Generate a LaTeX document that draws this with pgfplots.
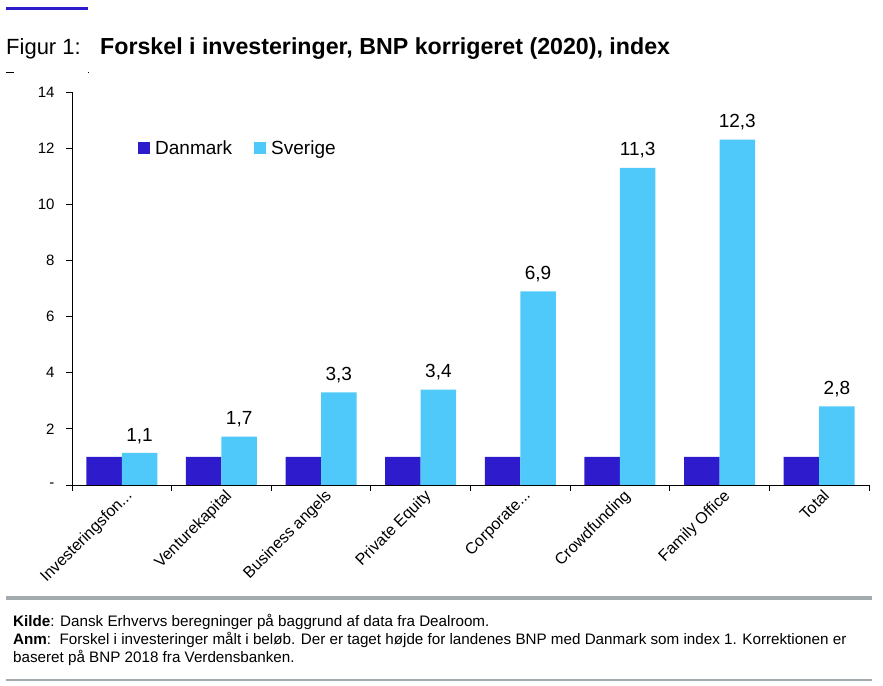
\documentclass[border=0pt]{standalone}
\usepackage{pgfplots}
\pgfplotsset{compat=1.18}
\usepackage{fontspec}
\setmainfont{Liberation Sans}
\definecolor{dk}{HTML}{2E1BCB}
\definecolor{se}{HTML}{4FC9FA}
\definecolor{gl}{HTML}{A3ABAE}
\begin{document}
\begin{tikzpicture}
\path[use as bounding box] (0pt,0pt) rectangle (883pt,685pt);
% top decoration
\fill[dk] (6pt,674.5pt) rectangle (88pt,677.5pt);
\node[anchor=base west,inner sep=0pt,font=\fontsize{22}{26}\selectfont] at (6pt,630pt) {Figur 1:};
\node[anchor=base west,inner sep=0pt,font=\fontsize{23.2}{26}\selectfont\bfseries] at (100pt,630pt) {Forskel i investeringer, BNP korrigeret (2020), index};
\draw[black,line width=0.8pt] (6pt,612.5pt) -- (14pt,612.5pt);
\fill[black] (87.5pt,612pt) rectangle (88.5pt,613pt);
\begin{axis}[
  at={(72pt,200pt)}, anchor=south west,
  scale only axis, width=797pt, height=393pt,
  xmin=0, xmax=8, ymin=0, ymax=14,
  axis x line*=bottom, axis y line*=left,
  axis line style={black, line width=0.8pt},
  ybar=0pt, bar width=35.5pt,
  xtick={0,1,2,3,4,5,6,7,8}, xticklabels={},
  ytick={0,2,4,6,8,10,12,14}, yticklabels={-,2,4,6,8,10,12,14},
  tick align=outside, major tick length=6pt,
  tick style={black, line width=0.8pt},
  /pgf/number format/assume math mode=true,
  yticklabel style={font=\fontsize{15}{17}\selectfont, xshift=-8pt},
  extra x ticks={0.5,1.5,2.5,3.5,4.5,5.5,6.5,7.5},
  extra x tick labels={{Investeringsfon{.}{.}{.}},{Venturekapital},{Business angels},{Private Equity},{Corporate{.}{.}{.}},{Crowdfunding},{Family Office},{Total}},
  extra x tick style={major tick length=0pt, tick label style={rotate=45, anchor=north east, font=\fontsize{16}{18}\selectfont, xshift=3pt, yshift=-1pt}},
  legend style={at={(0.079,0.857)}, anchor=west, draw=none, fill=none, legend columns=2,
    font=\fontsize{19}{21}\selectfont, /tikz/every even column/.append style={column sep=20pt}},
  legend image code/.code={\fill[#1] (0pt,-6pt) rectangle (12pt,6pt); \path (15pt,0pt);},
  nodes near coords style={font=\fontsize{19}{21}\selectfont, yshift=6pt, /pgf/number format/.cd, fixed, fixed zerofill, precision=1, use comma, assume math mode=true},
  clip=false,
]
\addplot[fill=dk, draw=none] coordinates {(0.5,1) (1.5,1) (2.5,1) (3.5,1) (4.5,1) (5.5,1) (6.5,1) (7.5,1)};
\addlegendentry{Danmark}
\addplot[fill=se, draw=none, nodes near coords] coordinates {(0.5,1.14) (1.5,1.72) (2.5,3.3) (3.5,3.4) (4.5,6.9) (5.5,11.3) (6.5,12.3) (7.5,2.8)};
\addlegendentry{Sverige}
\end{axis}
% footer
\fill[gl] (6pt,85pt) rectangle (872pt,89pt);
\node[anchor=base west,inner sep=0pt,font=\fontsize{15.2}{20}\selectfont] at (13pt,58pt) {\textbf{Kilde}: Dansk Erhvervs beregninger på baggrund af data fra Dealroom.};
\node[anchor=base west,inner sep=0pt,font=\fontsize{15.2}{20}\selectfont] at (13pt,40pt) {\textbf{Anm}:\ \ Forskel i investeringer målt i beløb. Der er taget højde for landenes BNP med Danmark som index 1. Korrektionen er};
\node[anchor=base west,inner sep=0pt,font=\fontsize{15.2}{20}\selectfont] at (13pt,22pt) {baseret på BNP 2018 fra Verdensbanken.};
\fill[gl] (6pt,3.5pt) rectangle (872pt,6pt);
\end{tikzpicture}
\end{document}
